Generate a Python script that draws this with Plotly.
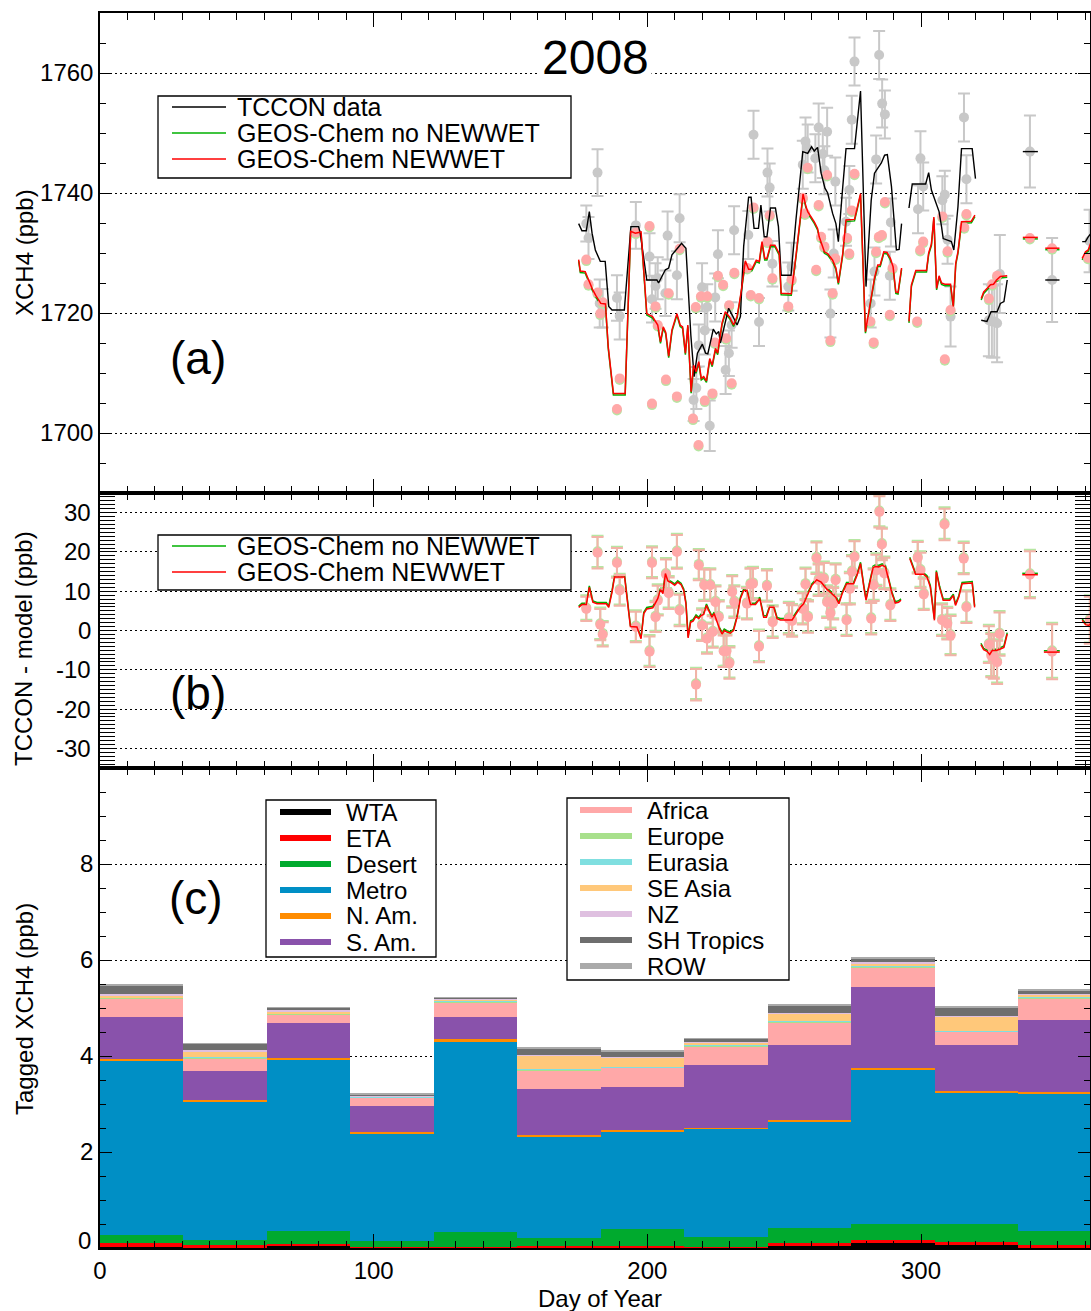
import plotly.graph_objects as go

# ---------------- Panel (a): XCH4 ----------------
tccon_days = [177.7, 178.5, 181.8, 182.6, 183.7, 188.9, 189.9, 195.8, 200.8, 201.7, 203.0, 203.8,
              206.6, 207.4, 210.8, 211.8, 216.9, 217.9, 218.8, 220.0, 221.0, 221.9, 222.8, 224.8,
              225.8, 228.6, 229.8, 230.8, 231.7, 236.9, 238.8, 240.8, 243.9, 244.7, 245.7, 251.5,
              252.7, 256.8, 257.8, 258.6, 261.4, 262.6, 264.1, 264.7, 265.7, 266.9, 268.1, 268.7,
              272.6, 273.8, 274.7, 275.7, 281.6, 283.0, 283.6, 284.7, 285.8, 286.8, 288.6, 289.0,
              298.9, 299.8, 300.8, 307.8, 308.7, 309.7, 310.8, 315.7, 316.6, 324.8, 325.9, 326.8,
              327.8, 328.8, 339.8, 347.9, 361.6]
tccon_vals = [1734.9, 1732.5, 1743.4, 1721.6, 1720.8, 1722.5, 1719.5, 1734.6, 1729.4, 1722.3, 1724.5, 1725.8,
              1723.3, 1732.9, 1726.3, 1735.8, 1705.5, 1707.5, 1714.6, 1724.3, 1717.1, 1721.0, 1701.2, 1722.6,
              1729.8, 1710.5, 1713.3, 1718.0, 1733.8, 1733.0, 1749.7, 1718.5, 1743.4, 1740.9, 1728.2, 1724.4,
              1727.7, 1744.7, 1748.6, 1747.4, 1745.8, 1750.9, 1746.5, 1743.8, 1750.2, 1719.9, 1729.9, 1741.9,
              1735.2, 1740.5, 1752.2, 1761.9, 1721.6, 1726.9, 1745.6, 1763.0, 1754.9, 1753.1, 1726.2, 1735.1,
              1737.3, 1745.8, 1741.1, 1738.8, 1739.7, 1732.2, 1719.4, 1752.6, 1742.3, 1718.8, 1718.6, 1718.6,
              1718.3, 1726.5, 1746.9, 1725.5, 1732.0]
tccon_errs = [3.0, 3.5, 3.9, 4.0, 3.2, 3.8, 3.9, 3.9, 3.9, 3.9, 3.8, 3.5,
              3.8, 4.0, 4.0, 4.0, 3.5, 3.5, 3.5, 4.0, 4.0, 3.8, 4.2, 4.0,
              4.0, 4.0, 3.8, 3.8, 4.0, 4.0, 4.0, 4.0, 4.0, 4.0, 3.8, 4.0,
              4.0, 4.0, 4.0, 4.0, 4.0, 4.0, 4.0, 4.0, 4.0, 4.0, 4.0, 4.0,
              4.0, 4.0, 4.0, 4.0, 4.0, 4.0, 4.0, 4.0, 4.0, 4.0, 4.0, 4.0,
              4.0, 4.5, 4.0, 4.0, 4.0, 4.0, 5.0, 4.0, 4.0, 6.0, 6.0, 6.0,
              6.5, 6.5, 6.0, 7.0, 5.2]

model_days = [177.7, 178.5, 181.8, 182.8, 183.7, 188.9, 189.9, 195.8, 200.8, 201.7, 203.0, 203.8,
              206.8, 207.8, 210.8, 211.8, 216.7, 217.7, 218.7, 219.6, 221.0, 221.9, 223.8, 224.7,
              225.8, 227.7, 228.8, 229.9, 230.8, 231.8, 236.5, 237.8, 238.8, 240.8, 243.9, 244.7,
              245.7, 251.5, 252.7, 256.8, 257.6, 258.6, 261.7, 262.6, 263.5, 264.7, 265.7, 266.9,
              267.7, 268.7, 273.0, 273.8, 274.7, 275.7, 281.5, 282.7, 283.6, 284.6, 285.7, 286.8,
              288.6, 289.6, 298.6, 299.7, 300.8, 307.8, 308.7, 309.7, 310.8, 315.8, 316.6, 324.8,
              326.0, 327.8, 339.8, 347.9, 361.0]
model_vals = [1728.9, 1724.8, 1723.4, 1719.9, 1721.8, 1704.0, 1709.1, 1733.4, 1734.5, 1704.9, 1721.1, 1718.0,
              1708.9, 1723.3, 1706.1, 1730.7, 1702.4, 1721.0, 1698.0, 1722.8, 1705.4, 1722.8, 1706.6, 1715.1,
              1726.2, 1724.7, 1715.8, 1721.3, 1708.3, 1726.7, 1727.5, 1723.0, 1737.6, 1722.5, 1731.9, 1736.3,
              1725.8, 1721.1, 1725.6, 1739.2, 1736.6, 1744.2, 1727.2, 1738.0, 1732.7, 1731.1, 1743.0, 1715.4,
              1723.3, 1729.1, 1732.5, 1729.9, 1737.1, 1743.2, 1718.6, 1715.1, 1730.2, 1732.7, 1733.0, 1738.5,
              1719.7, 1727.5, 1718.6, 1730.5, 1731.9, 1736.1, 1712.3, 1730.3, 1720.5, 1734.3, 1736.5, 1722.4,
              1724.8, 1726.2, 1732.5, 1730.8, 1729.2]

tccon_line_days = [174.9, 176.1, 177.7, 178.8, 179.8, 181.0, 182.8, 184.6, 185.9, 187.1, 191.6, 194.0,
                   196.8, 197.4, 199.8, 203.5, 204.1, 206.6, 207.8, 209.0, 211.4, 212.5, 214.1, 215.9,
                   217.1, 218.3, 220.1, 221.3, 222.1, 224.1, 225.2, 226.1, 226.7, 228.5, 229.7, 231.3,
                   232.8, 234.0, 235.2, 237.0, 237.9, 239.0, 240.6, 241.5, 242.7, 243.7, 245.0, 246.8,
                   247.9, 248.9, 252.5, 254.3, 256.8, 258.6, 260.0, 261.0, 262.2, 263.5, 264.9, 265.9,
                   267.7, 268.9, 269.8, 271.4, 272.6, 275.7, 277.9, 279.9, 281.8, 283.0, 284.2, 285.5,
                   286.7, 287.7, 289.2, 290.4, 291.0, 292.0, 292.9, None,
                   295.6, 296.8, 301.7, 302.8, 303.8, 305.0, 306.6, 307.5, 308.1, 311.1, 312.0, 313.5,
                   314.8, 318.7, 319.9, None,
                   322.0, 324.1, 325.6, 327.8, 329.0, 330.3, 331.5, None,
                   337.2, 342.7, None, 345.4, 350.6, None,
                   358.9, 360.1, 361.1, 362.2]
tccon_line_vals = [1734.9, 1733.7, 1733.7, 1736.9, 1733.3, 1730.5, 1728.6, 1728.6, 1721.1, 1720.5, 1720.5, 1734.4,
                   1734.4, 1733.3, 1725.5, 1725.5, 1725.0, 1727.2, 1727.5, 1729.7, 1731.0, 1731.6, 1730.8, 1716.3,
                   1709.4, 1713.3, 1714.8, 1713.3, 1713.2, 1717.3, 1716.5, 1716.9, 1715.0, 1718.3, 1720.8, 1719.4,
                   1718.0, 1719.4, 1731.1, 1739.3, 1739.3, 1734.1, 1734.1, 1738.0, 1732.7, 1732.7, 1737.5, 1737.5,
                   1734.4, 1726.3, 1726.3, 1735.5, 1746.9, 1746.6, 1747.7, 1747.0, 1747.6, 1743.3, 1740.8, 1740.0,
                   1736.6, 1734.9, 1731.9, 1741.0, 1747.4, 1747.4, 1757.0, 1724.4, 1738.8, 1743.3, 1744.2, 1745.0,
                   1746.3, 1746.4, 1741.1, 1734.4, 1730.5, 1730.6, 1734.9, None,
                   1737.5, 1741.5, 1741.5, 1743.4, 1740.5, 1738.8, 1736.9, 1734.4, 1732.4, 1731.9, 1730.5, 1737.7,
                   1747.4, 1747.4, 1742.4, None,
                   1718.8, 1718.6, 1720.2, 1720.2, 1721.6, 1721.9, 1725.5, None,
                   1746.9, 1746.9, None, 1725.5, 1725.5, None,
                   1731.9, 1731.9, 1732.7, 1733.3]

model_line_days = [174.9, 175.5, 177.3, 178.5, 180.1, 181.3, 183.0, 184.7, 185.7, 187.6, 191.9, 193.9,
                   195.6, 197.7, 199.8, 201.9, 203.8, 204.8, 205.8, 206.7, 207.8, 209.0, 210.8, 212.0,
                   212.9, 213.9, 214.8, 216.0, 216.9, 217.8, 218.8, 219.7, 220.6, 221.6, 222.8, 223.7,
                   224.9, 225.7, 227.3, 228.5, 230.1, 231.5, 232.8, 234.2, 235.8, 237.0, 238.2, 239.8,
                   240.9, 241.9, 242.9, 243.7, 245.0, 246.6, 248.2, 248.9, 252.6, 254.4, 256.9, 258.0,
                   258.6, 261.0, 262.2, 262.8, 264.0, 264.7, 265.9, 267.7, 268.9, 269.8, 271.4, 272.6,
                   275.7, 276.6, 277.9, 279.7, 281.2, 283.0, 284.2, 285.1, 286.4, 287.6, 288.8, 289.8,
                   290.8, 291.6, 292.9, None,
                   295.6, 296.5, 298.1, 302.0, 302.8, 303.8, 304.7, 305.7, 306.6, 307.5, 308.7, 310.8,
                   311.8, 312.7, 313.5, 314.8, 318.4, 319.7, None,
                   322.0, 322.9, 324.1, 325.4, 326.5, 327.6, 329.0, 330.4, 331.5, None,
                   337.2, 342.7, None, 345.4, 350.6, None,
                   358.9, 360.1, 361.1, 362.2]
model_line_vals = [1728.9, 1727.0, 1726.9, 1725.5, 1723.8, 1722.8, 1721.6, 1721.5, 1714.4, 1706.6, 1706.6, 1733.6,
                   1733.3, 1733.5, 1719.9, 1719.4, 1718.0, 1715.2, 1717.7, 1716.8, 1712.8, 1717.2, 1719.9, 1718.0,
                   1717.7, 1713.3, 1718.0, 1706.9, 1711.3, 1710.2, 1711.9, 1709.1, 1709.4, 1708.7, 1712.4, 1711.3,
                   1714.1, 1713.3, 1718.3, 1720.2, 1719.3, 1718.0, 1719.4, 1723.3, 1728.7, 1727.3, 1727.3, 1728.8,
                   1728.6, 1731.9, 1729.1, 1729.1, 1731.3, 1731.3, 1729.9, 1723.3, 1723.2, 1729.9, 1739.8, 1737.7,
                   1736.9, 1735.2, 1734.1, 1732.7, 1731.3, 1730.2, 1729.9, 1728.8, 1727.5, 1725.0, 1729.9, 1735.5,
                   1735.6, 1737.2, 1739.9, 1716.9, 1721.1, 1725.8, 1728.0, 1728.0, 1730.2, 1730.1, 1729.1, 1727.7,
                   1723.5, 1723.4, 1727.5, None,
                   1718.6, 1724.7, 1727.1, 1727.1, 1730.0, 1731.5, 1736.0, 1724.1, 1726.2, 1725.0, 1724.8, 1724.8,
                   1721.1, 1728.3, 1730.2, 1735.2, 1735.3, 1736.3, None,
                   1722.4, 1723.5, 1724.1, 1724.7, 1724.8, 1725.5, 1726.1, 1726.2, 1726.2, None,
                   1732.6, 1732.6, None, 1730.8, 1730.8, None,
                   1729.1, 1730.2, 1730.5, 1731.9]

# ---------------- Panel (b): TCCON - model ----------------
diff_days = [177.7, 181.8, 182.8, 183.7, 188.9, 189.9, 195.8, 200.8, 201.7, 203.0, 203.8, 206.8,
             207.8, 210.8, 211.8, 217.8, 218.8, 220.0, 220.8, 221.8, 223.0, 223.9, 224.9, 226.1,
             227.9, 228.9, 230.0, 231.0, 231.8, 236.4, 237.7, 238.6, 240.8, 243.7, 245.8, 251.7,
             252.9, 256.8, 257.8, 258.7, 261.8, 262.6, 264.5, 265.7, 266.9, 267.9, 268.8, 272.8,
             274.0, 274.8, 275.7, 281.8, 282.7, 283.7, 284.8, 285.7, 286.6, 288.8, 298.8, 299.8,
             301.0, 307.7, 308.6, 309.6, 310.8, 315.6, 316.6, 324.8, 325.7, 326.6, 327.8, 328.7,
             339.8, 347.9, 361.7]
diff_vals = [5.5, 19.8, 1.5, -1.0, 17.2, 10.2, 0.9, -5.4, 17.2, 3.4, 7.6, 14.3,
             9.5, 20.0, 5.1, -13.8, 16.6, 1.3, 11.5, -2.1, 11.5, -0.4, 7.2, 3.4,
             -5.3, -5.3, -8.3, 9.8, 7.2, 6.8, 11.7, 11.9, -4.1, 11.3, 2.1, 3.0,
             2.4, 5.5, 11.7, 3.4, 18.4, 12.8, 13.2, 7.2, 4.4, 6.8, 12.8, 2.6,
             10.6, 14.9, 18.7, 3.0, 11.5, 15.3, 30.2, 21.9, 14.5, 6.4, 18.5, 15.3,
             9.2, 2.6, 27.0, 1.7, -1.3, 18.3, 5.9, -3.6, -6.4, -6.8, -8.1, -0.9,
             14.2, -5.4, 2.6]
diff_errs = [3.1, 4.0, 4.0, 3.1, 3.8, 3.9, 3.9, 3.9, 3.9, 3.8, 3.8, 3.8,
             4.0, 4.3, 4.0, 4.0, 3.8, 4.0, 4.0, 3.8, 4.0, 4.0, 4.0, 4.0,
             4.0, 4.0, 4.0, 4.0, 4.0, 4.0, 4.0, 4.0, 4.0, 4.0, 4.0, 4.0,
             4.0, 4.0, 4.0, 4.0, 4.0, 4.0, 4.0, 4.0, 4.0, 4.0, 4.0, 4.0,
             4.0, 4.0, 4.0, 4.0, 4.0, 4.0, 4.0, 4.0, 4.0, 4.0, 4.0, 4.5,
             4.0, 4.0, 4.0, 4.0, 5.0, 4.0, 4.0, 4.7, 5.5, 5.5, 5.5, 5.5,
             6.0, 7.0, 6.0]

diff_line_days = [174.9, 176.1, 177.7, 178.8, 180.1, 181.6, 185.0, 185.9, 187.1, 188.0, 191.7, 192.6,
                  193.8, 196.2, 197.7, 198.7, 199.8, 202.0, 203.8, 204.8, 205.7, 206.6, 207.5, 208.8,
                  210.0, 211.1, 212.3, 213.3, 214.1, 214.9, 215.8, 216.7, 217.8, 218.8, 219.6, 220.6,
                  221.6, 222.4, 223.6, 224.4, 225.4, 226.4, 227.3, 228.1, 229.1, 230.3, 231.5, 232.8,
                  234.0, 235.2, 236.4, 237.7, 239.5, 241.1, 242.5, 243.5, 244.7, 246.2, 247.4, 248.6,
                  252.9, 254.7, 255.9, 257.1, 258.6, 260.1, 261.9, 263.5, 265.5, 267.5, 268.8, 270.0,
                  271.2, 272.8, 275.4, 276.6, 277.9, 279.1, 279.9, 281.2, 282.5, 283.3, 284.5, 285.8,
                  287.0, 288.2, 289.4, 290.6, 291.8, 292.7, None,
                  295.9, 297.1, 298.0, 301.0, 302.2, 303.4, 304.9, 305.6, 306.8, 308.1, 310.5, 311.8,
                  312.6, 313.8, 315.0, 318.7, 319.6, None,
                  321.9, 322.9, 324.1, 325.1, 326.0, 327.5, 329.0, 330.3, 331.5, None,
                  337.0, 342.7, None, 344.9, 350.7, None,
                  358.9, 360.1, 361.3, 362.2]
diff_line_vals = [5.9, 6.6, 6.6, 11.0, 7.2, 6.8, 6.8, 5.9, 9.8, 13.6, 13.6, 7.7,
                  1.0, 0.9, -2.1, 4.3, 5.5, 5.8, 8.1, 10.4, 9.4, 14.5, 12.6, 12.1,
                  11.5, 12.3, 11.7, 10.2, 6.8, -1.9, 2.1, 2.4, 3.6, 3.0, 3.8, 4.1,
                  6.4, 5.1, 3.4, 4.3, 2.1, 0.4, -0.9, 0.0, -0.4, -0.7, 0.0, 3.4,
                  8.1, 10.2, 10.2, 6.6, 6.6, 8.1, 3.4, 3.4, 5.9, 5.9, 3.0, 2.7,
                  2.7, 4.7, 5.9, 6.8, 9.4, 11.5, 12.9, 12.3, 10.6, 9.4, 8.5, 6.8,
                  9.4, 11.9, 11.9, 14.0, 17.0, 11.1, 7.7, 11.9, 16.0, 16.3, 16.2, 16.6,
                  16.2, 12.8, 9.4, 7.0, 7.2, 7.7, None,
                  18.3, 16.2, 14.3, 14.3, 13.6, 11.1, 2.6, 14.9, 10.9, 7.7, 7.7, 8.9,
                  6.4, 8.5, 11.9, 12.1, 5.9, None,
                  -3.6, -4.9, -5.3, -6.1, -5.1, -5.1, -4.7, -4.3, -0.9, None,
                  14.2, 14.2, None, -5.5, -5.5, None,
                  2.6, 1.5, 1.3, 2.0]

# ---------------- Panel (c): tagged XCH4 (monthly bins) ----------------
bin_edges = [0, 30.5, 61, 91.5, 122, 152.5, 183, 213.5, 244, 274.5, 305, 335.5, 366]
tag_wta = [0.03, 0.02, 0.05, 0.01, 0.01, 0.01, 0.01, 0.01, 0.04, 0.10, 0.06, 0.02]
tag_eta = [0.07, 0.04, 0.03, 0.02, 0.02, 0.03, 0.03, 0.02, 0.06, 0.07, 0.06, 0.04]
tag_desert = [0.17, 0.11, 0.27, 0.12, 0.30, 0.17, 0.35, 0.20, 0.32, 0.33, 0.37, 0.29]
tag_metro = [3.63, 2.88, 3.58, 2.23, 3.98, 2.12, 2.03, 2.25, 2.21, 3.21, 2.75, 2.87]
tag_nam = [0.03, 0.03, 0.03, 0.03, 0.04, 0.03, 0.03, 0.03, 0.04, 0.03, 0.03, 0.03]
tag_sam = [0.89, 0.61, 0.72, 0.54, 0.46, 0.95, 0.91, 1.30, 1.56, 1.70, 0.95, 1.50]
tag_africa = [0.37, 0.26, 0.19, 0.18, 0.31, 0.38, 0.40, 0.38, 0.46, 0.41, 0.28, 0.45]
tag_europe = [0.02, 0.01, 0.01, 0.01, 0.02, 0.02, 0.01, 0.02, 0.02, 0.02, 0.02, 0.02]
tag_eurasia = [0.01, 0.01, 0.01, 0.01, 0.01, 0.01, 0.01, 0.01, 0.01, 0.01, 0.01, 0.01]
tag_seasia = [0.04, 0.13, 0.03, 0.01, 0.03, 0.29, 0.19, 0.06, 0.17, 0.05, 0.29, 0.05]
tag_nz = [0.04, 0.02, 0.03, 0.02, 0.01, 0.02, 0.01, 0.01, 0.01, 0.02, 0.01, 0.02]
tag_shtropics = [0.16, 0.13, 0.05, 0.02, 0.02, 0.13, 0.12, 0.07, 0.15, 0.08, 0.19, 0.06]
tag_row = [0.04, 0.02, 0.02, 0.01, 0.01, 0.02, 0.01, 0.01, 0.02, 0.02, 0.02, 0.02]

tag_names_1 = ["WTA", "ETA", "Desert", "Metro", "N. Am.", "S. Am."]
tag_names_2 = ["Africa", "Europe", "Eurasia", "SE Asia", "NZ", "SH Tropics", "ROW"]
tag_colors_1 = ["#000000", "#ff0000", "#00aa2e", "#008fc5", "#ff8c00", "#8952ab"]
tag_colors_2 = ["#ffa8a8", "#a8e08c", "#80dfe0", "#ffc87a", "#dfc0e0", "#6e6e6e", "#aaaaaa"]

diff_ticks = [-30, -20, -10, 0, 10, 20, 30]
tag_ticks = [2, 4, 6, 8]

# ---------------- figure ----------------
W, H = 1091, 1311
ML, MR, MT, MB = 100, 1, 13, 63
PW, PH = W - ML - MR, H - MT - MB


def PX(x):
    return (x - ML) / PW


def PY(y):
    return 1 - (y - MT) / PH


FONT = "Liberation Sans, Arial, Helvetica, sans-serif"
GRAY = "rgb(200,200,200)"
PINK = "#ffa8a8"
LGREEN = "#b6e6a2"
PINKBAR = "#f2b3a8"
GREENLINE = "#00b000"

fig = go.Figure()

# Panel (a): base y3 = TCCON points; y4 (overlay, nudged ~1.5px) = no-NEWWET; y6 (overlay) = NEWWET + lines
fig.add_trace(go.Scatter(x=tccon_days, y=tccon_vals, mode="markers", xaxis="x3", yaxis="y3",
                         marker=dict(color=GRAY, size=10),
                         error_y=dict(type="data", array=tccon_errs, color=GRAY, thickness=2, width=6),
                         showlegend=False))
fig.add_trace(go.Scatter(x=model_days, y=model_vals, mode="markers", xaxis="x3", yaxis="y4",
                         marker=dict(color=LGREEN, size=10), showlegend=False))
fig.add_trace(go.Scatter(x=model_line_days, y=model_line_vals, mode="lines", xaxis="x3", yaxis="y4",
                         line=dict(color=GREENLINE, width=1.5), showlegend=False))
fig.add_trace(go.Scatter(x=model_days, y=model_vals, mode="markers", xaxis="x3", yaxis="y6",
                         marker=dict(color=PINK, size=10), showlegend=False))
fig.add_trace(go.Scatter(x=tccon_line_days, y=tccon_line_vals, mode="lines", xaxis="x3", yaxis="y6",
                         line=dict(color="black", width=1.4), showlegend=False))
fig.add_trace(go.Scatter(x=model_line_days, y=model_line_vals, mode="lines", xaxis="x3", yaxis="y6",
                         line=dict(color="#ff0000", width=1.5), showlegend=False))

# Panel (b): y5 (overlay, nudged) = no-NEWWET; y7 (overlay) = NEWWET
fig.add_trace(go.Scatter(x=diff_days, y=diff_vals, mode="markers", xaxis="x2", yaxis="y5",
                         marker=dict(color=LGREEN, size=10),
                         error_y=dict(type="data", array=diff_errs, color=LGREEN, thickness=2, width=6),
                         showlegend=False))
fig.add_trace(go.Scatter(x=diff_line_days, y=diff_line_vals, mode="lines", xaxis="x2", yaxis="y5",
                         line=dict(color=GREENLINE, width=1.5), showlegend=False))
fig.add_trace(go.Scatter(x=diff_days, y=diff_vals, mode="markers", xaxis="x2", yaxis="y7",
                         marker=dict(color=PINK, size=10),
                         error_y=dict(type="data", array=diff_errs, color=PINKBAR, thickness=2, width=6),
                         showlegend=False))
fig.add_trace(go.Scatter(x=diff_line_days, y=diff_line_vals, mode="lines", xaxis="x2", yaxis="y7",
                         line=dict(color="#ff0000", width=1.5), showlegend=False))

# Panel (c)
bin_centers = [(a + b) / 2 for a, b in zip(bin_edges[:-1], bin_edges[1:])]
bin_widths = [b - a for a, b in zip(bin_edges[:-1], bin_edges[1:])]
tag_series = [tag_wta, tag_eta, tag_desert, tag_metro, tag_nam, tag_sam,
              tag_africa, tag_europe, tag_eurasia, tag_seasia, tag_nz, tag_shtropics, tag_row]
for name, col, vals in zip(tag_names_1 + tag_names_2, tag_colors_1 + tag_colors_2, tag_series):
    fig.add_trace(go.Bar(x=bin_centers, y=vals, width=bin_widths, name=name, xaxis="x", yaxis="y",
                         marker=dict(color=col, line=dict(width=0)), showlegend=False))

# axes
dom_c = [0, 480 / PH]
dom_b = [480 / PH, 755 / PH]
dom_a = [755 / PH, 1]
XR = [0, PW / 2.7367]
YA = [1690, 1770]
YB = [-35, 35]
grid = dict(showgrid=True, gridcolor="black", gridwidth=1.3, griddash="2px,3px")
axcommon = dict(showline=True, linecolor="black", linewidth=1.5, mirror="ticks", ticks="inside",
                tickcolor="black", tickwidth=1.3, zeroline=False, automargin=False,
                tickfont=dict(family=FONT, size=24, color="black"))

xcommon = dict(axcommon, range=XR, tickmode="linear", tick0=0, dtick=100, ticklen=14,
               minor=dict(ticks="inside", dtick=10, tick0=0, ticklen=7, tickcolor="black", tickwidth=1.2),
               showgrid=False)

fig.update_layout(
    xaxis=dict(xcommon, anchor="y", domain=[0, 1]),
    xaxis2=dict(xcommon, anchor="y2", domain=[0, 1], matches="x", showticklabels=False),
    xaxis3=dict(xcommon, anchor="y3", domain=[0, 1], matches="x", showticklabels=False),
    yaxis=dict(axcommon, **grid, domain=dom_c, range=[0, 10], anchor="x", tickmode="array",
               tickvals=[0] + tag_ticks, ticktext=[""] + [str(v) for v in tag_ticks], ticklen=12,
               minor=dict(ticks="inside", dtick=0.5, tick0=0, ticklen=6, tickcolor="black", tickwidth=1.2)),
    yaxis2=dict(axcommon, **grid, domain=dom_b, range=YB, anchor="x2", tickmode="linear",
                tick0=0, dtick=10, ticklen=15, showticklabels=False,
                minor=dict(ticks="inside", dtick=1, tick0=0, ticklen=15, tickcolor="black", tickwidth=1.1)),
    yaxis3=dict(axcommon, **grid, domain=dom_a, range=YA, anchor="x3", tickmode="linear",
                tick0=1700, dtick=20, ticklen=12,
                minor=dict(ticks="inside", dtick=5, tick0=1690, ticklen=6, tickcolor="black", tickwidth=1.2)),
    yaxis4=dict(overlaying="y3", anchor="x3", range=[YA[0] + 0.25, YA[1] + 0.25], visible=False),
    yaxis5=dict(overlaying="y2", anchor="x2", range=[YB[0] - 0.35, YB[1] - 0.35], visible=False),
    yaxis6=dict(overlaying="y3", anchor="x3", range=YA, visible=False),
    yaxis7=dict(overlaying="y2", anchor="x2", range=YB, visible=False),
    barmode="stack", bargap=0,
    width=W, height=H, margin=dict(l=ML, r=MR, t=MT, b=MB, pad=0),
    paper_bgcolor="white", plot_bgcolor="white", template="none",
    font=dict(family=FONT, size=24, color="black"), showlegend=False,
)

shapes = []
ann = []


def legend_box(x0, y0, x1, y1):
    shapes.append(dict(type="rect", xref="paper", yref="paper", x0=PX(x0), x1=PX(x1), y0=PY(y1), y1=PY(y0),
                       line=dict(color="black", width=1.3), fillcolor="white", layer="above"))


def legend_item(x0, x1, y, color, width, text, tx, fs=24):
    shapes.append(dict(type="line", xref="paper", yref="paper", x0=PX(x0), x1=PX(x1), y0=PY(y), y1=PY(y),
                       line=dict(color=color, width=width), layer="above"))
    ann.append(dict(text=text, xref="paper", yref="paper", x=PX(tx), y=PY(y), xanchor="left", yanchor="middle",
                    showarrow=False, font=dict(family=FONT, size=fs, color="black")))


# legend (a)
legend_box(158, 96, 571, 178)
legend_item(172, 226, 107, "black", 1.3, "TCCON data", 235, 25)
legend_item(172, 226, 133, GREENLINE, 1.3, "GEOS-Chem no NEWWET", 235, 25)
legend_item(172, 226, 159, "#ff0000", 1.3, "GEOS-Chem NEWWET", 235, 25)
# legend (b)
legend_box(158, 535, 571, 590)
legend_item(172, 226, 546, GREENLINE, 1.3, "GEOS-Chem no NEWWET", 235, 25)
legend_item(172, 226, 572, "#ff0000", 1.3, "GEOS-Chem NEWWET", 235, 25)
# legends (c)
legend_box(266, 800, 436, 957)
for i, (n, c) in enumerate(zip(tag_names_1, tag_colors_1)):
    legend_item(280, 331, 812 + 26 * i, c, 6, n, 344)
legend_box(567, 798, 789, 980)
for i, (n, c) in enumerate(zip(tag_names_2, tag_colors_2)):
    legend_item(580, 632, 810 + 26 * i, c, 6, n, 645)

# panel (b) tick labels with ASCII hyphen minus
for v in diff_ticks:
    ann.append(dict(text=str(v), xref="paper", yref="y2", x=PX(93), y=v, showarrow=False,
                    xanchor="right", yanchor="middle", font=dict(family=FONT, size=24, color="black")))
# panel (c) zero label sits slightly above the axis, as in the original
ann.append(dict(text="0", xref="paper", yref="paper", x=PX(93), y=PY(1240), showarrow=False,
                xanchor="right", yanchor="middle", font=dict(family=FONT, size=24, color="black")))

# labels
ann.append(dict(text="2008", xref="paper", yref="paper", x=PX(595), y=PY(57), showarrow=False,
                xanchor="center", yanchor="middle", bgcolor="white", borderpad=2,
                font=dict(family=FONT, size=48, color="black")))
for t, x, y in [("(a)", 198, 358), ("(b)", 198, 693), ("(c)", 196, 898)]:
    ann.append(dict(text=t, xref="paper", yref="paper", x=PX(x), y=PY(y), showarrow=False,
                    xanchor="center", yanchor="middle", font=dict(family=FONT, size=46, color="black")))
for t, y in [("XCH4 (ppb)", 253), ("TCCON - model (ppb)", 649), ("Tagged XCH4 (ppb)", 1009)]:
    ann.append(dict(text=t, xref="paper", yref="paper", x=PX(24), y=PY(y), showarrow=False, textangle=-90,
                    xanchor="center", yanchor="middle", font=dict(family=FONT, size=24, color="black")))
ann.append(dict(text="Day of Year", xref="paper", yref="paper", x=PX(600), y=PY(1298), showarrow=False,
                xanchor="center", yanchor="middle", font=dict(family=FONT, size=24, color="black")))

fig.update_layout(shapes=shapes, annotations=ann)
fig.write_html("out.html")
